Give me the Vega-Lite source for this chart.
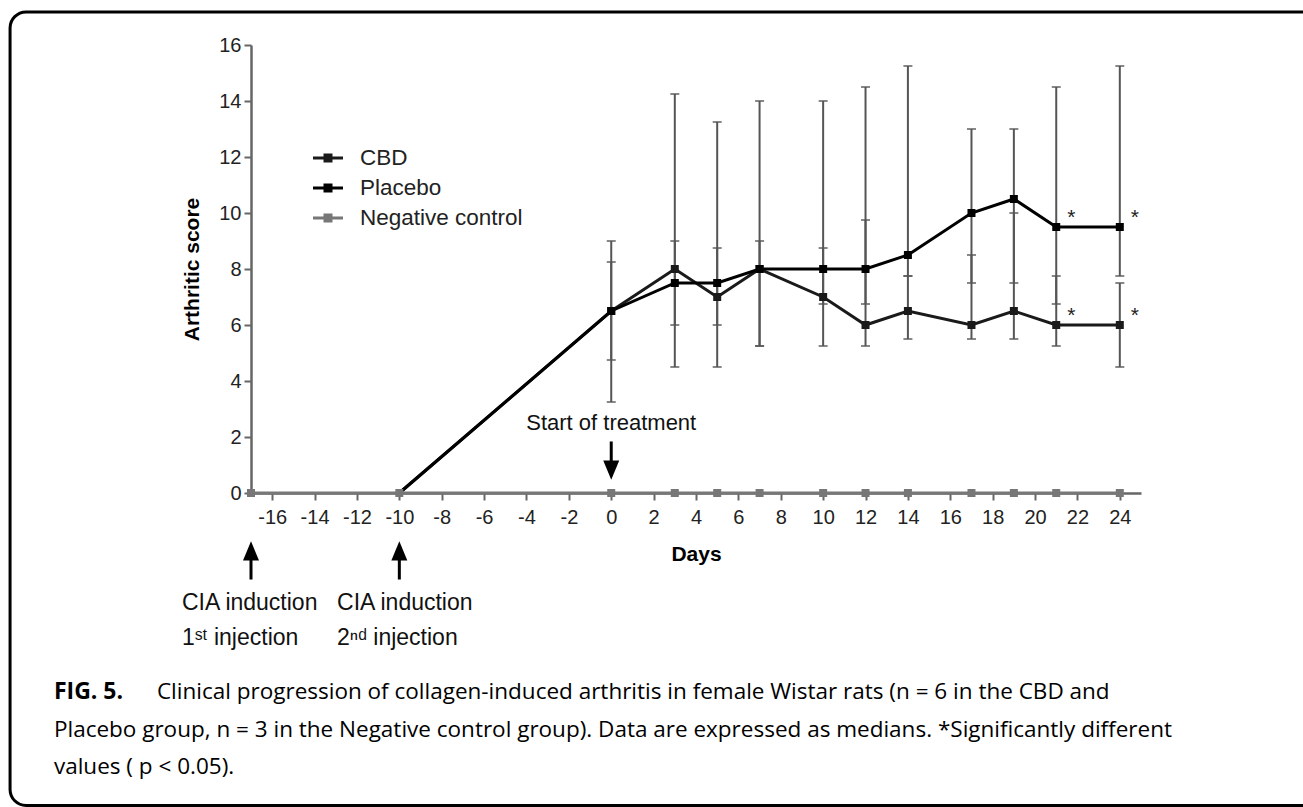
{
  "$schema": "https://vega.github.io/schema/vega-lite/v6.json",
  "width": 890,
  "height": 448,
  "autosize": {"type": "none"},
  "padding": {"left": 251, "top": 45, "right": 162, "bottom": 314},
  "background": "white",
  "config": {
    "view": {"stroke": null},
    "font": "Liberation Sans",
    "axis": {
      "grid": false,
      "domainColor": "#666",
      "domainWidth": 2.5,
      "tickColor": "#666",
      "tickWidth": 2,
      "tickSize": 7,
      "labelFont": "Liberation Sans",
      "labelFontSize": 20,
      "labelColor": "#222",
      "labelPadding": 3,
      "titleFont": "Liberation Sans",
      "titleFontSize": 21,
      "titleFontWeight": "bold",
      "titleColor": "#000"
    }
  },
  "datasets": {
    "scores": [
      {"series": "CBD", "day": -10, "median": 0},
      {"series": "CBD", "day": 0, "median": 6.5, "lo": 4.75, "hi": 8.25},
      {"series": "CBD", "day": 3, "median": 8, "lo": 4.5, "hi": 14.25},
      {"series": "CBD", "day": 5, "median": 7, "lo": 4.5, "hi": 13.25},
      {"series": "CBD", "day": 7, "median": 8, "lo": 5.25, "hi": 14},
      {"series": "CBD", "day": 10, "median": 7, "lo": 5.25, "hi": 8.75},
      {"series": "CBD", "day": 12, "median": 6, "lo": 5.25, "hi": 9.75},
      {"series": "CBD", "day": 14, "median": 6.5, "lo": 5.5, "hi": 7.75},
      {"series": "CBD", "day": 17, "median": 6, "lo": 5.5, "hi": 8.5},
      {"series": "CBD", "day": 19, "median": 6.5, "lo": 5.5, "hi": 10},
      {"series": "CBD", "day": 21, "median": 6, "lo": 5.25, "hi": 7.75},
      {"series": "CBD", "day": 24, "median": 6, "lo": 4.5, "hi": 7.5},
      {"series": "Placebo", "day": -10, "median": 0},
      {"series": "Placebo", "day": 0, "median": 6.5, "lo": 3.25, "hi": 9},
      {"series": "Placebo", "day": 3, "median": 7.5, "lo": 6, "hi": 9},
      {"series": "Placebo", "day": 5, "median": 7.5, "lo": 6, "hi": 8.75},
      {"series": "Placebo", "day": 7, "median": 8, "lo": 5.25, "hi": 9},
      {"series": "Placebo", "day": 10, "median": 8, "lo": 6.75, "hi": 14},
      {"series": "Placebo", "day": 12, "median": 8, "lo": 6.75, "hi": 14.5},
      {"series": "Placebo", "day": 14, "median": 8.5, "lo": 7.75, "hi": 15.25},
      {"series": "Placebo", "day": 17, "median": 10, "lo": 7.5, "hi": 13},
      {"series": "Placebo", "day": 19, "median": 10.5, "lo": 7.5, "hi": 13},
      {"series": "Placebo", "day": 21, "median": 9.5, "lo": 6.75, "hi": 14.5},
      {"series": "Placebo", "day": 24, "median": 9.5, "lo": 7.75, "hi": 15.25},
      {"series": "Negative control", "day": -17, "median": 0},
      {"series": "Negative control", "day": -10, "median": 0},
      {"series": "Negative control", "day": 0, "median": 0},
      {"series": "Negative control", "day": 3, "median": 0},
      {"series": "Negative control", "day": 5, "median": 0},
      {"series": "Negative control", "day": 7, "median": 0},
      {"series": "Negative control", "day": 10, "median": 0},
      {"series": "Negative control", "day": 12, "median": 0},
      {"series": "Negative control", "day": 14, "median": 0},
      {"series": "Negative control", "day": 17, "median": 0},
      {"series": "Negative control", "day": 19, "median": 0},
      {"series": "Negative control", "day": 21, "median": 0},
      {"series": "Negative control", "day": 24, "median": 0}
    ],
    "stars": [
      {"series": "CBD", "day": 21, "median": 6},
      {"series": "CBD", "day": 24, "median": 6},
      {"series": "Placebo", "day": 21, "median": 9.5},
      {"series": "Placebo", "day": 24, "median": 9.5}
    ],
    "one": [{"k": 1}]
  },
  "layer": [
    {
      "data": {"name": "one"},
      "mark": {"type": "rect", "filled": false, "stroke": "#000", "strokeWidth": 3, "cornerRadius": 16, "clip": false},
      "encoding": {
        "x": {"datum": -28.37, "type": "quantitative", "scale": {"domain": [-17, 25], "nice": false, "zero": false}},
        "x2": {"datum": 33.5},
        "y": {"datum": 17.18, "type": "quantitative", "scale": {"domain": [0, 16], "nice": false}},
        "y2": {"datum": -11.16}
      }
    },
    {
      "data": {"name": "scores"},
      "transform": [{"filter": "isValid(datum.lo)"}],
      "mark": {"type": "rule", "color": "#555", "strokeWidth": 2},
      "encoding": {
        "x": {
          "field": "day",
          "type": "quantitative",
          "title": "Days",
          "axis": {
            "title": "Days",
            "values": [-16, -14, -12, -10, -8, -6, -4, -2, 0, 2, 4, 6, 8, 10, 12, 14, 16, 18, 20, 22, 24],
            "labelExpr": "'' + datum.value",
            "labelPadding": 7,
            "titlePadding": 16
          }
        },
        "y": {
          "field": "lo",
          "type": "quantitative",
          "title": "Arthritic score",
          "axis": {
            "title": "Arthritic score",
            "values": [0, 2, 4, 6, 8, 10, 12, 14, 16],
            "titlePadding": 16
          }
        },
        "y2": {"field": "hi"}
      }
    },
    {
      "data": {"name": "scores"},
      "transform": [
        {"filter": "isValid(datum.lo)"},
        {"fold": ["lo", "hi"], "as": ["capkind", "cap"]}
      ],
      "mark": {"type": "tick", "orient": "horizontal", "color": "#555", "size": 9, "thickness": 2},
      "encoding": {
        "x": {"field": "day", "type": "quantitative"},
        "y": {"field": "cap", "type": "quantitative"}
      }
    },
    {
      "data": {"name": "scores"},
      "mark": {"type": "line", "strokeWidth": 3},
      "encoding": {
        "x": {"field": "day", "type": "quantitative"},
        "y": {"field": "median", "type": "quantitative"},
        "color": {
          "field": "series",
          "type": "nominal",
          "scale": {"domain": ["CBD", "Placebo", "Negative control"], "range": ["#1a1a1a", "#000000", "#777777"]},
          "legend": {
            "title": null,
            "orient": "none",
            "legendX": 62,
            "legendY": 98,
            "symbolType": "M-1,-0.1L1,-0.1L1,0.1L-1,0.1ZM-0.3,-0.3L0.3,-0.3L0.3,0.3L-0.3,0.3Z",
            "symbolSize": 900,
            "symbolStrokeWidth": 0,
            "symbolOpacity": 1,
            "labelFont": "Liberation Sans",
            "labelFontSize": 22.5,
            "labelColor": "#222",
            "labelLimit": 400,
            "labelOffset": 17,
            "rowPadding": 3,
            "padding": 0
          }
        }
      }
    },
    {
      "data": {"name": "scores"},
      "transform": [{"filter": "datum.series == 'Negative control' || datum.day >= 0"}],
      "mark": {"type": "square", "size": 64, "opacity": 1},
      "encoding": {
        "x": {"field": "day", "type": "quantitative"},
        "y": {"field": "median", "type": "quantitative"},
        "color": {"field": "series", "type": "nominal"}
      }
    },
    {
      "data": {"name": "stars"},
      "mark": {"type": "text", "text": "*", "fontSize": 21, "dx": 15, "dy": -3, "baseline": "alphabetic", "align": "center", "color": "#222"},
      "encoding": {
        "x": {"field": "day", "type": "quantitative"},
        "y": {"field": "median", "type": "quantitative"}
      }
    },
    {
      "data": {"name": "one"},
      "mark": {"type": "text", "text": "Start of treatment", "fontSize": 22, "align": "center", "baseline": "middle", "color": "#111", "clip": false},
      "encoding": {"x": {"datum": 0}, "y": {"datum": 2.5}}
    },
    {
      "data": {"name": "one"},
      "mark": {"type": "rule", "strokeWidth": 3, "color": "#000", "clip": false},
      "encoding": {"x": {"datum": 0}, "y": {"datum": 1.84}, "y2": {"datum": 0.95}}
    },
    {
      "data": {"name": "one"},
      "mark": {"type": "point", "shape": "M-1,-1.2L1,-1.2L0,1.2Z", "size": 256, "filled": true, "color": "#000", "opacity": 1, "clip": false},
      "encoding": {"x": {"datum": 0}, "y": {"datum": 0.82}}
    },
    {
      "data": {"name": "one"},
      "mark": {"type": "rule", "strokeWidth": 3, "color": "#000", "clip": false},
      "encoding": {"x": {"datum": -17}, "y": {"datum": -2.25}, "y2": {"datum": -3.09}}
    },
    {
      "data": {"name": "one"},
      "mark": {"type": "point", "shape": "M-1,1.2L1,1.2L0,-1.2Z", "size": 256, "filled": true, "color": "#000", "opacity": 1, "clip": false},
      "encoding": {"x": {"datum": -17}, "y": {"datum": -2.07}}
    },
    {
      "data": {"name": "one"},
      "mark": {"type": "rule", "strokeWidth": 3, "color": "#000", "clip": false},
      "encoding": {"x": {"datum": -10}, "y": {"datum": -2.25}, "y2": {"datum": -3.09}}
    },
    {
      "data": {"name": "one"},
      "mark": {"type": "point", "shape": "M-1,1.2L1,1.2L0,-1.2Z", "size": 256, "filled": true, "color": "#000", "opacity": 1, "clip": false},
      "encoding": {"x": {"datum": -10}, "y": {"datum": -2.07}}
    },
    {
      "data": {"name": "one"},
      "mark": {"type": "text", "text": ["CIA induction", "1ˢᵗ injection"], "fontSize": 23, "lineHeight": 35, "align": "left", "baseline": "middle", "color": "#111", "clip": false},
      "encoding": {"x": {"datum": -20.26}, "y": {"datum": -3.92}}
    },
    {
      "data": {"name": "one"},
      "mark": {"type": "text", "text": ["CIA induction", "2ⁿᵈ injection"], "fontSize": 23, "lineHeight": 35, "align": "left", "baseline": "middle", "color": "#111", "clip": false},
      "encoding": {"x": {"datum": -12.94}, "y": {"datum": -3.92}}
    },
    {
      "data": {"name": "one"},
      "mark": {"type": "text", "text": "FIG. 5.", "font": "Open Sans", "fontWeight": "bold", "fontSize": 23, "align": "left", "baseline": "middle", "color": "#000", "clip": false},
      "encoding": {"x": {"datum": -26.3}, "y": {"datum": -7.09}}
    },
    {
      "data": {"name": "one"},
      "mark": {"type": "text", "text": "Clinical progression of collagen-induced arthritis in female Wistar rats (n = 6 in the CBD and", "font": "Open Sans", "fontSize": 22.5, "align": "left", "baseline": "middle", "color": "#000", "clip": false},
      "encoding": {"x": {"datum": -21.44}, "y": {"datum": -7.09}}
    },
    {
      "data": {"name": "one"},
      "mark": {"type": "text", "text": "Placebo group, n = 3 in the Negative control group). Data are expressed as medians. *Significantly different", "font": "Open Sans", "fontSize": 22.5, "align": "left", "baseline": "middle", "color": "#000", "clip": false},
      "encoding": {"x": {"datum": -26.3}, "y": {"datum": -8.45}}
    },
    {
      "data": {"name": "one"},
      "mark": {"type": "text", "text": "values ( p < 0.05).", "font": "Open Sans", "fontSize": 22.5, "align": "left", "baseline": "middle", "color": "#000", "clip": false},
      "encoding": {"x": {"datum": -26.3}, "y": {"datum": -9.77}}
    }
  ]
}
